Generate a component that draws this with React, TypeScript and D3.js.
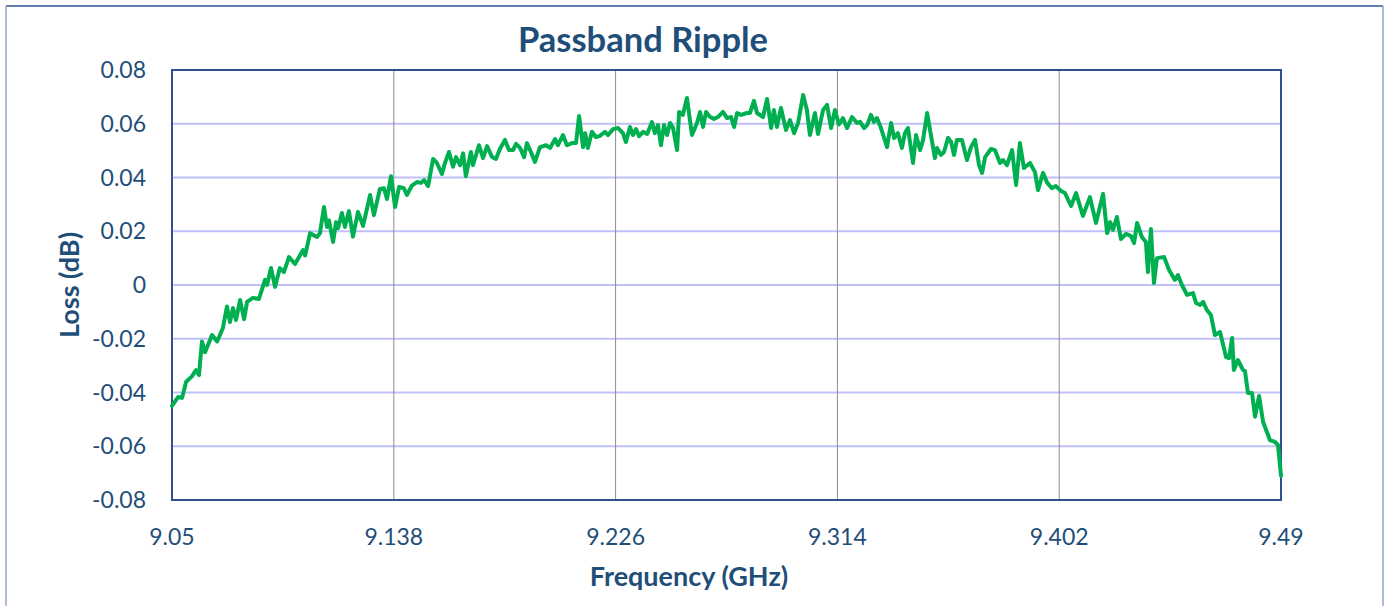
import React from 'react'
import { scaleLinear, line, curveLinear } from 'd3'

const title = 'Passband Ripple'
const xTitle = 'Frequency (GHz)'
const yTitle = 'Loss (dB)'

const xTicks = [9.05, 9.138, 9.226, 9.314, 9.402, 9.49]
const yTicks = [-0.08, -0.06, -0.04, -0.02, 0, 0.02, 0.04, 0.06, 0.08]

// left to right
const freqGHz = [
  9.05, 9.0524, 9.054, 9.0556, 9.0579, 9.0595, 9.0607, 9.0619, 9.0631, 9.0659,
  9.0679, 9.0702, 9.0718, 9.073, 9.0742, 9.0754, 9.077, 9.0786, 9.0798, 9.0821,
  9.0845, 9.0869, 9.0877, 9.0893, 9.0909, 9.0928, 9.0944, 9.0964, 9.0988, 9.102,
  9.1028, 9.1048, 9.1075, 9.1087, 9.1103, 9.1115, 9.1123, 9.1139, 9.1151, 9.1159,
  9.1174, 9.1186, 9.1202, 9.1218, 9.1238, 9.1258, 9.1286, 9.1301, 9.1325, 9.1341,
  9.1353, 9.1369, 9.1385, 9.1401, 9.142, 9.1432, 9.1452, 9.1472, 9.1488, 9.15,
  9.1516, 9.1536, 9.1551, 9.1571, 9.1583, 9.1599, 9.1615, 9.1627, 9.1643, 9.1655,
  9.1666, 9.1686, 9.1694, 9.1718, 9.1734, 9.175, 9.177, 9.1785, 9.1801, 9.1821,
  9.1837, 9.1853, 9.1865, 9.1881, 9.1897, 9.1908, 9.1924, 9.194, 9.196, 9.1984,
  9.2, 9.202, 9.2031, 9.2051, 9.2067, 9.2087, 9.2103, 9.2115, 9.2131, 9.2139,
  9.215, 9.2166, 9.2182, 9.2198, 9.2218, 9.223, 9.225, 9.227, 9.2289, 9.2301,
  9.2317, 9.2329, 9.2341, 9.2353, 9.2369, 9.2385, 9.2404, 9.2416, 9.2428, 9.244,
  9.2452, 9.2464, 9.2476, 9.2488, 9.2504, 9.2512, 9.2527, 9.2543, 9.2563, 9.2583,
  9.2595, 9.2607, 9.2619, 9.2635, 9.265, 9.2666, 9.2686, 9.2702, 9.2718, 9.273,
  9.2742, 9.2758, 9.2781, 9.2793, 9.2809, 9.2821, 9.2845, 9.2861, 9.2877, 9.2888,
  9.29, 9.2916, 9.2936, 9.2952, 9.2968, 9.2984, 9.3004, 9.3019, 9.3031, 9.3051,
  9.3063, 9.3083, 9.3099, 9.3115, 9.313, 9.3146, 9.3162, 9.3178, 9.3198, 9.3218,
  9.323, 9.3246, 9.3258, 9.3273, 9.3285, 9.3297, 9.3313, 9.3337, 9.3353, 9.3365,
  9.338, 9.3396, 9.3408, 9.342, 9.344, 9.3452, 9.3468, 9.348, 9.3496, 9.3511,
  9.3527, 9.3535, 9.3551, 9.3563, 9.3579, 9.3591, 9.3603, 9.3614, 9.3634, 9.3654,
  9.367, 9.3686, 9.3702, 9.3714, 9.3726, 9.3749, 9.3765, 9.3785, 9.3797, 9.3813,
  9.3833, 9.3849, 9.3864, 9.388, 9.3904, 9.3924, 9.3936, 9.3956, 9.3972, 9.3991,
  9.4007, 9.4027, 9.4043, 9.4067, 9.4087, 9.4114, 9.4142, 9.4166, 9.4194, 9.421,
  9.4222, 9.4233, 9.4249, 9.4265, 9.4285, 9.4305, 9.4317, 9.4329, 9.4348, 9.4364,
  9.4372, 9.4384, 9.4396, 9.4408, 9.4436, 9.4456, 9.4479, 9.4491, 9.4507, 9.4527,
  9.4551, 9.4563, 9.4579, 9.4591, 9.4606, 9.4622, 9.4638, 9.4658, 9.4682, 9.4694,
  9.4706, 9.4713, 9.4729, 9.4749, 9.4757, 9.4769, 9.4785, 9.4797, 9.4813, 9.4829,
  9.4856, 9.4876, 9.4888, 9.49
]

const lossDb = [
  -0.045, -0.0417, -0.042, -0.036, -0.034, -0.0317, -0.0335, -0.021, -0.025, -0.0186,
  -0.021, -0.016, -0.008, -0.0138, -0.0086, -0.013, -0.0056, -0.0127, -0.0063, -0.0048,
  -0.0052, 0.0019, 0.0, 0.0063, -0.0007, 0.0063, 0.0048, 0.0104, 0.0078, 0.013,
  0.011, 0.0193, 0.0179, 0.0193, 0.029, 0.0216, 0.024, 0.016, 0.0234, 0.0212,
  0.0268, 0.0216, 0.0275, 0.018, 0.0272, 0.022, 0.0335, 0.026, 0.0357, 0.036,
  0.032, 0.0405, 0.029, 0.0365, 0.036, 0.0335, 0.037, 0.0383, 0.038, 0.039,
  0.0368, 0.0469, 0.0454, 0.0413, 0.0454, 0.0495, 0.044, 0.0476, 0.0446, 0.049,
  0.0405, 0.0495, 0.0446, 0.052, 0.0472, 0.0517, 0.0476, 0.0469, 0.0506, 0.054,
  0.0502, 0.0502, 0.0525, 0.051, 0.0476, 0.0528, 0.0495, 0.0458, 0.0513, 0.052,
  0.051, 0.0543, 0.052, 0.0558, 0.052, 0.0528, 0.0528, 0.0629, 0.0513, 0.0565,
  0.051, 0.057, 0.055, 0.0555, 0.057, 0.0558, 0.058, 0.0584, 0.0565, 0.0532,
  0.0588, 0.0558, 0.058, 0.0554, 0.057, 0.0562, 0.0606, 0.0565, 0.0595, 0.052,
  0.0595, 0.0558, 0.0603, 0.0584, 0.0502, 0.0644, 0.0633, 0.0696, 0.0558, 0.0603,
  0.0644, 0.0588, 0.0644, 0.0625, 0.0618, 0.0625, 0.0644, 0.0621, 0.0625, 0.0588,
  0.064, 0.0633, 0.064, 0.064, 0.0685, 0.064, 0.0625, 0.0692, 0.0584, 0.0651,
  0.0588, 0.0659, 0.0577, 0.0614, 0.0565, 0.0603, 0.0707, 0.0651, 0.0558, 0.064,
  0.0562, 0.0651, 0.067, 0.0584, 0.0651, 0.0597, 0.0621, 0.0584, 0.0625, 0.0603,
  0.0607, 0.0584, 0.0595, 0.0633, 0.0607, 0.0621, 0.0584, 0.0513, 0.0603, 0.0547,
  0.0565, 0.051, 0.0565, 0.0584, 0.0454, 0.0558, 0.0502, 0.054, 0.064, 0.0558,
  0.0472, 0.051, 0.0484, 0.0495, 0.0547, 0.0532, 0.0484, 0.054, 0.054, 0.0465,
  0.0513, 0.054, 0.0446, 0.0417, 0.0476, 0.0506, 0.0502, 0.0454, 0.0465, 0.0446,
  0.0502, 0.0372, 0.0528, 0.0435, 0.0454, 0.042, 0.0353, 0.0417, 0.0381, 0.036,
  0.0368, 0.035, 0.0342, 0.0294, 0.0342, 0.0257, 0.0327, 0.0231, 0.0339, 0.0193,
  0.0234, 0.0205, 0.0253, 0.0171, 0.019, 0.0182, 0.0156, 0.0231, 0.0179, 0.016,
  0.0048, 0.0208, 0.0007, 0.01, 0.0104, 0.0056, 0.0019, 0.0037, 0.0, -0.0037,
  -0.003, -0.0067, -0.0074, -0.0063, -0.0093, -0.0112, -0.0186, -0.0175, -0.0268, -0.0272,
  -0.0197, -0.0316, -0.0279, -0.0316, -0.032, -0.0402, -0.0402, -0.049, -0.0413, -0.051,
  -0.0577, -0.0584, -0.0595, -0.071
]

const W = 1389
const H = 606
const plot = { left: 172, right: 1281, top: 70, bottom: 500 }
const navy = '#1f4e79'
const font = 'Lato, "Open Sans", sans-serif'

export default function App() {
  const x = scaleLinear().domain([9.05, 9.49]).range([plot.left, plot.right])
  const y = scaleLinear().domain([-0.08, 0.08]).range([plot.bottom, plot.top])

  const pts = freqGHz.map((f, i) => [f, lossDb[i]] as [number, number])
  const path = line<[number, number]>()
    .x(d => x(d[0]))
    .y(d => y(d[1]))
    .curve(curveLinear)(pts)

  return (
    <svg width={W} height={H} style={{ position: 'absolute', left: 0, top: 0, background: '#fff' }}>
      {/* outer chart frame */}
      <line x1={6} x2={1383} y1={6} y2={6} stroke='#2f5597' strokeWidth={1.5} />
      <line x1={6} x2={6} y1={6} y2={H} stroke='#8fa8c8' strokeWidth={1.5} />
      <line x1={1383} x2={1383} y1={6} y2={H} stroke='#8fa8c8' strokeWidth={1.5} />

      <text x={643} y={52} textAnchor='middle' fontFamily={font} fontWeight='bold' fontSize={34.5} fill={navy}>
        {title}
      </text>

      {yTicks.map(t => (
        <g key={'y' + t}>
          {t > -0.08 && t < 0.08 && (
            <line x1={plot.left} x2={plot.right} y1={y(t)} y2={y(t)} stroke='#c0c0f8' strokeWidth={2} />
          )}
          <text x={146} y={y(t)} dy='0.35em' textAnchor='end' fontFamily={font} fontSize={23} fill={navy}>
            {t === 0 ? '0' : t.toFixed(2)}
          </text>
        </g>
      ))}

      {xTicks.map(t => (
        <g key={'x' + t}>
          {t > 9.05 && t < 9.49 && (
            <line x1={x(t)} x2={x(t)} y1={plot.top} y2={plot.bottom} stroke='#8c8c8c' strokeWidth={1} />
          )}
          <text x={x(t)} y={545} textAnchor='middle' fontFamily={font} fontSize={23} fill={navy}>
            {String(t)}
          </text>
        </g>
      ))}

      <rect
        x={plot.left}
        y={plot.top}
        width={plot.right - plot.left}
        height={plot.bottom - plot.top}
        fill='none'
        stroke='#2f528f'
        strokeWidth={2}
      />

      <path d={path ?? ''} fill='none' stroke='#00b050' strokeWidth={4} strokeLinejoin='round' strokeLinecap='round' />

      <text x={689} y={586} textAnchor='middle' fontFamily={font} fontWeight='bold' fontSize={27} fill={navy}>
        {xTitle}
      </text>
      <text
        transform='translate(79,285) rotate(-90)'
        textAnchor='middle'
        fontFamily={font}
        fontWeight='bold'
        fontSize={27}
        fill={navy}
      >
        {yTitle}
      </text>
    </svg>
  )
}
